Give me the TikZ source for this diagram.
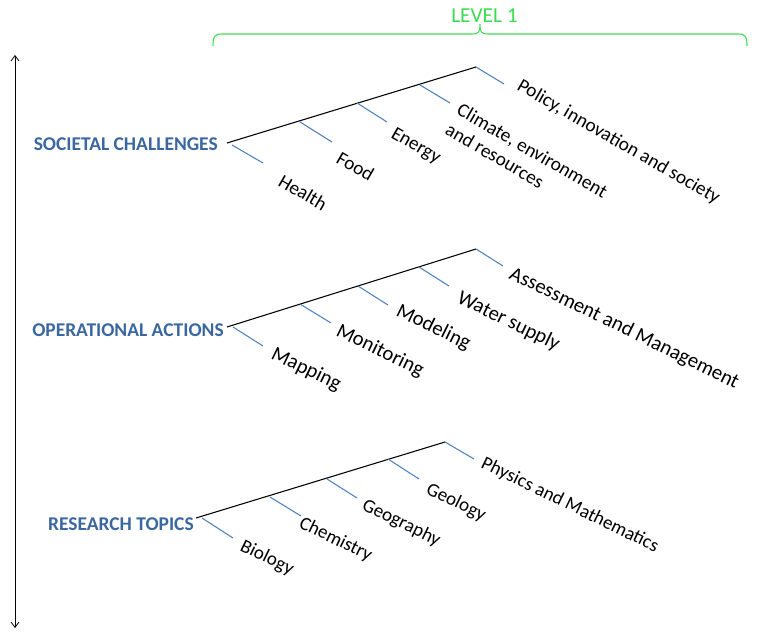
\documentclass[tikz,border=0pt]{standalone}
\usepackage{fontspec}
\setmainfont{Carlito}
\usepackage{tikz}
\usetikzlibrary{arrows.meta}

\definecolor{catblue}{RGB}{58,103,160}
\definecolor{branchblue}{RGB}{79,129,189}
\definecolor{levelgreen}{RGB}{60,220,80}

\begin{document}
\begin{tikzpicture}
    [x=0.75pt,y=-0.75pt,every node/.style={inner sep=0pt},
     sclbl/.style={font=\fontsize{14.5}{17.4}\selectfont,rotate=-30,anchor=base west},
     oalbl/.style={font=\fontsize{15.5}{18.6}\selectfont,rotate=-26,anchor=base west},
     rtlbl/.style={font=\fontsize{14.3}{17.2}\selectfont,rotate=-26,anchor=base west},
     cat/.style={font=\fontsize{14.6}{17}\selectfont\bfseries,text=catblue,anchor=base east},
     trunk/.style={line width=0.8pt},
     branch/.style={draw=branchblue,line width=0.8pt}]
      \useasboundingbox (0,0) rectangle (770,638);

      % level brace
      \draw[levelgreen,line width=0.8pt] (213,46) .. controls (213,37) and (214,34) .. (222,34) -- (472,34)
        .. controls (479,34) and (480,32) .. (480,24) .. controls (480,32) and (481,34) .. (488,34)
        -- (738,34) .. controls (746,34) and (747,37) .. (747,46);
      \node (level)[font=\fontsize{16}{19}\selectfont,text=levelgreen,anchor=base] at (484.5,23) {LEVEL 1};

      % vertical axis
      \coordinate (up) at (15,55);
      \coordinate (down) at (15,628);
      \draw[{Straight Barb[length=4pt,width=6pt]}-{Straight Barb[length=4pt,width=6pt]},line width=0.6pt] (up) -- (down);

      % categories
      \node (sc)[cat] at (218,151) {SOCIETAL CHALLENGES};
      \node (oa)[cat] at (224,336) {OPERATIONAL ACTIONS};
      \node (rt)[cat] at (194,530) {RESEARCH TOPICS};

      % tree 1
      \coordinate (r1) at (227,143);
      \coordinate (t1) at (476,67);
      \coordinate (b11) at (232,145); \coordinate (e11) at (263,163);
      \coordinate (b12) at (300,122); \coordinate (e12) at (332,142);
      \coordinate (b13) at (357,103); \coordinate (e13) at (387,122);
      \coordinate (b14) at (420,85);  \coordinate (e14) at (450,103);
      \coordinate (b15) at (476,67);  \coordinate (e15) at (504,84);
      \node (health)[sclbl]  at (277,185) {Health};
      \node (food)[sclbl]    at (335,162) {Food};
      \node (energy)[sclbl]  at (390,137) {Energy};
      \node (climate)[sclbl,anchor=west,align=left] at (453,118) {Climate, environment\\and resources};
      \node (policy)[sclbl]  at (516,89)  {Policy, innovation and society};

      % tree 2
      \coordinate (r2) at (227,327);
      \coordinate (t2) at (476,249);
      \coordinate (b21) at (233,327); \coordinate (e21) at (263,346);
      \coordinate (b22) at (300,304); \coordinate (e22) at (331,323);
      \coordinate (b23) at (358,286); \coordinate (e23) at (388,305);
      \coordinate (b24) at (419,267); \coordinate (e24) at (449,286);
      \coordinate (b25) at (476,249); \coordinate (e25) at (503,266);
      \node (mapping)[oalbl]    at (270,358) {Mapping};
      \node (monitoring)[oalbl] at (335,335) {Monitoring};
      \node (modeling)[oalbl]   at (395,315) {Modeling};
      \node (water)[oalbl]      at (456,302) {Water supply};
      \node (assess)[oalbl]     at (508,278) {Assessment and Management};

      % tree 3
      \coordinate (r3) at (196,518);
      \coordinate (t3) at (445,442);
      \coordinate (b31) at (202,518); \coordinate (e31) at (233,538);
      \coordinate (b32) at (270,497); \coordinate (e32) at (301,516);
      \coordinate (b33) at (327,479); \coordinate (e33) at (357,498);
      \coordinate (b34) at (388,459); \coordinate (e34) at (419,479);
      \coordinate (b35) at (445,442); \coordinate (e35) at (474,459);
      \node (biology)[rtlbl]   at (239,550) {Biology};
      \node (chemistry)[rtlbl] at (298,527) {Chemistry};
      \node (geography)[rtlbl] at (361,509) {Geography};
      \node (geology)[rtlbl]   at (425,493) {Geology};
      \node (physics)[rtlbl]   at (480,467) {Physics and Mathematics};

      \foreach \from/\to in {r1/t1,r2/t2,r3/t3}
	\draw[trunk] (\from) -- (\to);

      \foreach \i in {1,2,3}
        \foreach \j in {1,...,5}
	  \draw[branch] (b\i\j) -- (e\i\j);
    \end{tikzpicture}
\end{document}
